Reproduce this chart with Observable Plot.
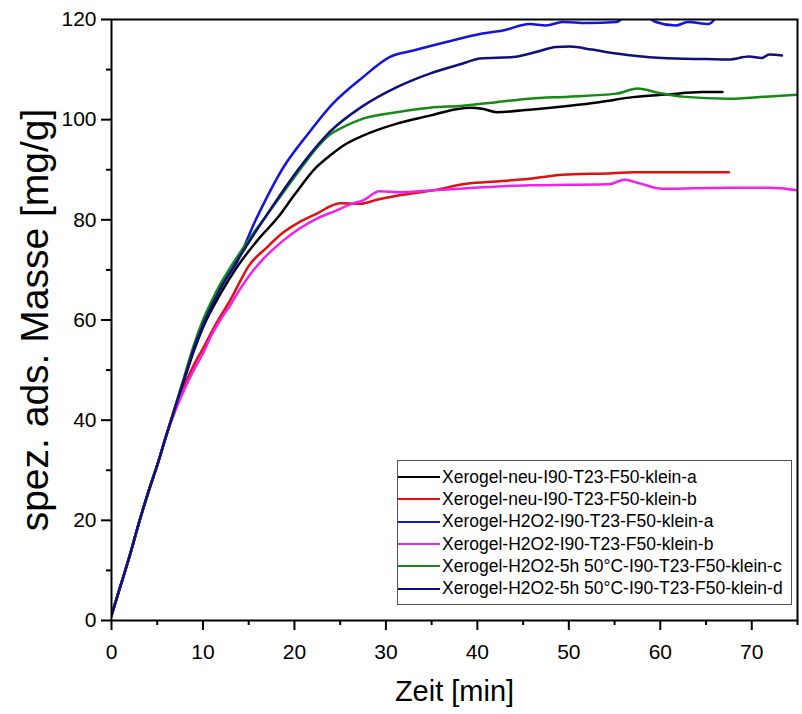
<!DOCTYPE html>
<html><head><meta charset="utf-8">
<script src="https://cdn.jsdelivr.net/npm/d3@7"></script>
<script src="https://cdn.jsdelivr.net/npm/@observablehq/plot@0.6"></script>
<style>
body{margin:0;background:#fff;font-family:"Liberation Sans",Arial,sans-serif;}
#wrap{position:relative;width:802px;height:714px;}
#legend{position:absolute;left:397px;top:460px;width:395px;height:145px;border:1px solid #555;background:#fff;box-sizing:border-box;padding-top:5px;}
.row{display:flex;align-items:center;height:22.3px;font-size:17.5px;color:#000;white-space:nowrap;}
.sw{width:42px;height:0;border-top:2.5px solid;margin:0 2px 0 0;}
</style>
</head><body><div id="wrap"></div>
<script>
const seriesNames = [
  "Xerogel-neu-I90-T23-F50-klein-a",
  "Xerogel-neu-I90-T23-F50-klein-b",
  "Xerogel-H2O2-I90-T23-F50-klein-a",
  "Xerogel-H2O2-I90-T23-F50-klein-b",
  "Xerogel-H2O2-5h 50°C-I90-T23-F50-klein-c",
  "Xerogel-H2O2-5h 50°C-I90-T23-F50-klein-d"
];
const seriesColors = ["#000000", "#e01010", "#1414e0", "#ee22ee", "#168a16", "#10107a"];

const xTicks = [0, 10, 20, 30, 40, 50, 60, 70];
const xMinor = [5, 15, 25, 35, 45, 55, 65, 75];
const yTicks = [0, 20, 40, 60, 80, 100, 120];
const yMinor = [10, 30, 50, 70, 90, 110];

// shared initial rise
const tStart = [0, 1, 2, 3, 4, 5, 6];
const vStart = [1, 7, 13, 19.5, 25.5, 31, 37];

// neu-a (black)
const tNeuA = [7, 8, 9, 10, 12, 13.7, 16, 18.2, 20, 22.4, 24, 25.5, 27.5, 31.2, 34.8, 37.7, 39.2, 40.5, 42.1, 45.7, 50.1, 53.3, 57, 60.6, 64.6, 66.8];
const vNeuA = [42.7, 48.3, 53.8, 58.5, 65.5, 70.5, 76, 80.5, 85, 90.5, 93, 95, 96.8, 99.2, 100.8, 102.1, 102.4, 102.2, 101.5, 102.0, 102.8, 103.5, 104.5, 105.0, 105.5, 105.5];
// neu-b (red)
const tNeuB = [7, 8, 9, 10, 11, 12, 13, 14, 14.9, 17, 18.8, 20.5, 22.4, 25, 27.2, 29, 31.5, 35.2, 38.8, 42.4, 45.7, 49.3, 54.8, 57, 60.2, 63.9, 67.5];
const vNeuB = [42.2, 47, 51, 54.3, 57.8, 61, 64, 67.5, 70.5, 74.5, 77.5, 79.5, 81.2, 83.3, 83.2, 84, 84.9, 85.9, 87.2, 87.7, 88.2, 89.0, 89.3, 89.5, 89.5, 89.5, 89.5];
// H2O2-a (blue)
const tH2A = [7, 8, 9, 10, 12, 13.4, 15.9, 18.8, 21.5, 24.2, 27.5, 30.4, 33, 36.6, 40.3, 42.8, 45.7, 47.5, 49.3, 52, 55.2, 56.5, 58, 59.5, 61.7, 63, 65.3, 66.1];
const vH2A = [42.8, 48.5, 54.3, 59, 67, 70.5, 80.5, 90.5, 97.2, 103.2, 108.5, 112.5, 113.8, 115.5, 117.1, 117.8, 119.1, 118.8, 119.5, 119.3, 119.5, 121, 121, 119.5, 118.8, 119.5, 119.1, 120.5];
// H2O2-b (magenta)
const tH2B = [7, 8, 9, 10, 11, 12, 13, 14, 15.2, 16.5, 18.8, 22.4, 24.5, 26.1, 27.5, 29.3, 31.5, 35.2, 40.6, 45.7, 50, 54.4, 56.1, 57.7, 60.2, 67.5, 71.9, 75];
const vH2B = [42, 46.3, 50, 53.3, 57.2, 60.3, 63, 66, 69.2, 72, 75.9, 80.2, 81.8, 83.1, 83.9, 85.7, 85.5, 85.9, 86.5, 86.9, 87, 87.1, 88.0, 87.3, 86.2, 86.4, 86.4, 85.9];
// 5h-c (green)
const tH5C = [7, 8, 9, 10, 11, 12, 13, 15, 17, 19, 21, 22.5, 24, 25, 27.5, 31.2, 34.8, 38.4, 42.1, 45.7, 50, 55.2, 57.5, 60, 62.4, 67.5, 71.5, 75];
const vH5C = [43, 49, 55, 60, 64, 67.5, 70.5, 76, 81, 86, 91, 94.5, 97.2, 98.2, 100.2, 101.5, 102.4, 102.8, 103.5, 104.2, 104.6, 105.2, 106.2, 105.3, 104.6, 104.2, 104.6, 105.0];
// 5h-d (navy)
const tH5D = [7, 8, 9, 10, 12, 13.3, 16.8, 20.6, 24, 27.3, 31.2, 34.8, 38.4, 40.3, 43.9, 46.4, 48.6, 50.1, 52.5, 55.2, 58, 61.7, 65, 67.5, 69.7, 71.1, 71.9, 73.3];
const vH5D = [42.8, 48.5, 54.3, 59, 66.5, 70.5, 80.5, 90.5, 97.8, 102.5, 106.5, 109.2, 111.2, 112.2, 112.5, 113.5, 114.5, 114.6, 114, 113.2, 112.6, 112.2, 112.1, 112.0, 112.6, 112.3, 113.0, 112.8];

const tails = [[tNeuA, vNeuA], [tNeuB, vNeuB], [tH2A, vH2A], [tH2B, vH2B], [tH5C, vH5C], [tH5D, vH5D]];
const data = [];
tails.forEach(([ts, vs], i) => {
  tStart.forEach((t, j) => data.push({s: seriesNames[i], t, v: vStart[j]}));
  ts.forEach((t, j) => data.push({s: seriesNames[i], t, v: vs[j]}));
});

const chart = Plot.plot({
  width: 802,
  height: 714,
  marginLeft: 111,
  marginRight: 5,
  marginTop: 19,
  marginBottom: 94,
  style: {fontFamily: '"Liberation Sans", Arial, sans-serif', color: "#000", background: "#fff"},
  x: {domain: [0, 75]},
  y: {domain: [0, 120]},
  color: {domain: seriesNames, range: seriesColors},
  marks: [
    Plot.line(data, {x: "t", y: "v", z: "s", stroke: "s", strokeWidth: 2.5, clip: true, curve: "monotone-x"}),
    Plot.frame({stroke: "#000", strokeWidth: 2}),
    Plot.axisX({ticks: xTicks, tickSize: 10, tickPadding: 14, fontSize: 21, label: null, strokeWidth: 2}),
    Plot.axisX({ticks: xMinor, tickSize: 5, text: null, label: null, strokeWidth: 2}),
    Plot.axisY({ticks: yTicks, tickSize: 10, tickPadding: 5, fontSize: 21, label: null, strokeWidth: 2}),
    Plot.axisY({ticks: yMinor, tickSize: 5, text: null, label: null, strokeWidth: 2}),
    Plot.text(["Zeit [min]"], {frameAnchor: "bottom", dy: 71, fontSize: 29, textAnchor: "middle", lineAnchor: "middle"}),
    Plot.text(["spez. ads. Masse [mg/g]"], {frameAnchor: "left", dx: -76, rotate: -90, fontSize: 39, textAnchor: "middle", lineAnchor: "middle"})
  ]
});
const wrap = document.getElementById("wrap");
wrap.appendChild(chart);

const legend = document.createElement("div");
legend.id = "legend";
seriesNames.forEach((n, i) => {
  const row = document.createElement("div");
  row.className = "row";
  const sw = document.createElement("span");
  sw.className = "sw";
  sw.style.borderTopColor = seriesColors[i];
  const tx = document.createElement("span");
  tx.textContent = n;
  row.appendChild(sw); row.appendChild(tx);
  legend.appendChild(row);
});
wrap.appendChild(legend);
</script>
</body></html>
